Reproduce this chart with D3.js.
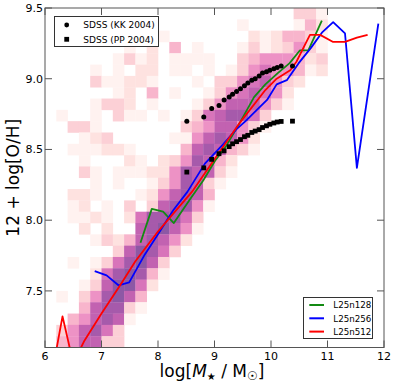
<!DOCTYPE html>
<html>
<head>
<meta charset="utf-8">
<script src="https://cdn.jsdelivr.net/npm/d3@7"></script>
<style>
  body { margin: 0; background: #fff; }
  text { font-family: "DejaVu Sans", sans-serif; }
</style>
</head>
<body>
<div id="root"></div>
<script>
// ---- data ----

// 2D histogram: 30 rows (top = 9.42-9.50) x 30 cols (6.0-6.2 ... 11.8-12.0), shade level 0-9
const heatRows = [
  "000000000000000000000033100000",
  "000000000000000001000014200000",
  "000000000210000000212443100000",
  "000000010204010001312353100000",
  "000000131201111003455542300000",
  "000010102201101013565541200000",
  "000031122100010335675320000000",
  "000000120401001356765200000000",
  "000013320100013577753100000000",
  "010010311010136788630000000000",
  "003310000000345775310000000000",
  "000123000001157875200000000000",
  "001112210000478743100000000000",
  "000100021023587420000000000000",
  "000310111225877310000000000000",
  "000010100135873100000000000000",
  "002210001257874000000000000000",
  "001201030378851000000000000000",
  "001121026888630000000000000000",
  "000202007897510000000000000000",
  "000013247875200000000000000000",
  "000000379863000000000000000000",
  "001013689730000000000000000000",
  "000026898410000000000000000000",
  "000137996200000000000000000000",
  "010358974000000000000000000000",
  "000478831000000000000000000000",
  "004578710000000000000000000000",
  "035786300000000000000000000000",
  "045773300000000000000000000000"
];
const heatColors = ["#ffffff", "#fff2f0", "#fee2e0", "#fcd0d6", "#f8b5cc", "#ed92c5",
                    "#d874ba", "#c262b1", "#a65aab", "#8d58a5"];

// SDSS (KK 2004)
const kkMass = [8.51, 8.81, 8.95, 9.08, 9.17, 9.26, 9.32, 9.39, 9.46, 9.53, 9.59,
                9.66, 9.72, 9.79, 9.85, 9.92, 9.98, 10.05, 10.11, 10.18, 10.38];
const kkOH   = [8.70, 8.73, 8.79, 8.81, 8.85, 8.87, 8.89, 8.91, 8.93, 8.95, 8.97,
                8.99, 9.00, 9.02, 9.04, 9.05, 9.06, 9.07, 9.08, 9.09, 9.09];

// SDSS (PP 2004)
const ppMass = [8.51, 8.81, 8.95, 9.08, 9.17, 9.26, 9.32, 9.39, 9.46, 9.53, 9.59,
                9.66, 9.72, 9.79, 9.85, 9.92, 9.98, 10.05, 10.11, 10.18, 10.38];
const ppOH   = [8.34, 8.37, 8.43, 8.47, 8.49, 8.52, 8.54, 8.555, 8.57, 8.59, 8.60,
                8.62, 8.63, 8.64, 8.655, 8.667, 8.678, 8.687, 8.694, 8.698, 8.70];

// simulations
const n128Mass = [7.69, 7.89, 8.09, 8.28, 8.57, 8.80, 9.01, 9.20, 9.45, 9.70, 9.90,
                  10.12, 10.33, 10.51, 10.66, 10.90];
const n128OH   = [7.84, 8.08, 8.06, 7.98, 8.15, 8.28, 8.42, 8.52, 8.69, 8.87, 8.96,
                  9.04, 9.11, 9.20, 9.20, 9.41];

const n256Mass = [6.88, 7.09, 7.30, 7.49, 7.77, 8.00, 8.27, 8.52, 8.83, 9.16, 9.38,
                  9.55, 9.75, 9.93, 10.10, 10.28, 10.49, 10.71, 10.91, 11.10, 11.31, 11.52, 11.90];
const n256OH   = [7.64, 7.61, 7.54, 7.56, 7.76, 7.90, 8.07, 8.20, 8.40, 8.54, 8.64,
                  8.70, 8.78, 8.85, 8.96, 8.99, 9.11, 9.22, 9.33, 9.40, 9.32, 8.37, 9.39];

const n512Mass = [6.19, 6.31, 6.50, 6.70, 7.00, 7.33, 7.60, 8.00, 8.30, 8.60, 9.00,
                  9.45, 9.90, 10.10, 10.34, 10.45, 10.60, 10.69, 10.87, 11.10, 11.31, 11.52, 11.71];
const n512OH   = [7.06, 7.32, 6.99, 7.15, 7.34, 7.54, 7.71, 7.92, 8.06, 8.20, 8.43,
                  8.69, 8.92, 9.00, 9.06, 9.12, 9.24, 9.31, 9.31, 9.26, 9.26, 9.29, 9.31];

const xTicks = [6, 7, 8, 9, 10, 11, 12];
const yTicks = [7.5, 8.0, 8.5, 9.0, 9.5];

const series = [
  { name: "L25n128", color: "#138a13", mass: n128Mass, oh: n128OH },
  { name: "L25n256", color: "#0000ff", mass: n256Mass, oh: n256OH },
  { name: "L25n512", color: "#ff0000", mass: n512Mass, oh: n512OH }
];

// ---- chart ----
const w = 395, h = 387;
const pLeft = 45, pRight = 384, pTop = 8, pBottom = 347.5;
const massBin = 0.2, ohBin = 0.08;

const svg = d3.select('#root').append('svg')
  .attr('width', w).attr('height', h);

const x = d3.scaleLinear().domain([6, 12]).range([pLeft, pRight]);
const y = d3.scaleLinear().domain([7.1, 9.5]).range([pBottom, pTop]);

svg.append('clipPath').attr('id', 'plot')
  .append('rect').attr('x', pLeft).attr('y', pTop)
  .attr('width', pRight - pLeft).attr('height', pBottom - pTop);

const plot = svg.append('g').attr('clip-path', 'url(#plot)');

// histogram cells
const cells = [];
heatRows.forEach((row, j) => {
  row.split('').forEach((c, i) => {
    if (c !== '0') cells.push({ m: 6 + i * massBin, o: 9.5 - j * ohBin, lev: +c });
  });
});
plot.selectAll('rect.cell')
  .data(cells)
  .enter()
  .append('rect')
  .attr('class', 'cell')
  .attr('x', d => x(d.m))
  .attr('y', d => y(d.o))
  .attr('width', d => x(d.m + massBin) - x(d.m) + 0.3)
  .attr('height', d => y(d.o - ohBin) - y(d.o) + 0.3)
  .attr('fill', d => heatColors[d.lev]);

// simulation lines
const line = d3.line().x(d => x(d[0])).y(d => y(d[1]));
series.forEach(s => {
  plot.append('path')
    .datum(s.mass.map((m, i) => [m, s.oh[i]]))
    .attr('d', line)
    .attr('fill', 'none')
    .attr('stroke', s.color)
    .attr('stroke-width', 1.8)
    .attr('stroke-linejoin', 'round');
});

// observations
plot.selectAll('circle.kk')
  .data(kkMass.map((m, i) => [m, kkOH[i]]))
  .enter()
  .append('circle')
  .attr('cx', d => x(d[0]))
  .attr('cy', d => y(d[1]))
  .attr('r', 2.5)
  .attr('fill', '#000');

const sq = 4.8;
plot.selectAll('rect.pp')
  .data(ppMass.map((m, i) => [m, ppOH[i]]))
  .enter()
  .append('rect')
  .attr('x', d => x(d[0]) - sq / 2)
  .attr('y', d => y(d[1]) - sq / 2)
  .attr('width', sq).attr('height', sq)
  .attr('fill', '#000');

// axes, ticks inward on all four sides
const axisColor = '#555';
const tickLen = 7;
const axes = svg.append('g');
axes.selectAll('line.xb').data(xTicks).enter().append('line')
  .attr('x1', d => x(d)).attr('x2', d => x(d))
  .attr('y1', pBottom).attr('y2', pBottom - tickLen);
axes.selectAll('line.xt').data(xTicks).enter().append('line')
  .attr('x1', d => x(d)).attr('x2', d => x(d))
  .attr('y1', pTop).attr('y2', pTop + tickLen);
axes.selectAll('line.yl').data(yTicks).enter().append('line')
  .attr('x1', pLeft).attr('x2', pLeft + tickLen)
  .attr('y1', d => y(d)).attr('y2', d => y(d));
axes.selectAll('line.yr').data(yTicks).enter().append('line')
  .attr('x1', pRight).attr('x2', pRight - tickLen)
  .attr('y1', d => y(d)).attr('y2', d => y(d));
axes.selectAll('line').attr('stroke', axisColor).attr('stroke-width', 1);

svg.append('rect')
  .attr('x', pLeft).attr('y', pTop)
  .attr('width', pRight - pLeft).attr('height', pBottom - pTop)
  .attr('fill', 'none').attr('stroke', axisColor).attr('stroke-width', 1);

svg.selectAll('text.xl').data(xTicks).enter().append('text')
  .attr('x', d => x(d)).attr('y', 360)
  .attr('text-anchor', 'middle').attr('font-size', 11)
  .text(d => d);
svg.selectAll('text.yl').data(yTicks).enter().append('text')
  .attr('x', 43).attr('y', d => y(d) + 4)
  .attr('text-anchor', 'end').attr('font-size', 11)
  .text(d => d.toFixed(1));

// axis titles
const xt = svg.append('text')
  .attr('x', 212).attr('y', 377)
  .attr('text-anchor', 'middle').attr('font-size', 17);
xt.append('tspan').text('log[');
xt.append('tspan').attr('font-style', 'italic').text('M');
xt.append('tspan').attr('font-size', 10).attr('dy', 3).text('★');
xt.append('tspan').attr('dy', -3).text(' / M');
xt.append('tspan').attr('font-size', 12).attr('dy', 3).text('☉');
xt.append('tspan').attr('dy', -3).text(']');

svg.append('text')
  .attr('transform', `translate(18.5,${(pTop + pBottom) / 2})rotate(-90)`)
  .attr('text-anchor', 'middle').attr('font-size', 17)
  .text('12 + log[O/H]');

// legend: observations (upper left)
const lg1 = svg.append('g');
lg1.append('rect').attr('x', 54.5).attr('y', 16.5).attr('width', 104).attr('height', 30)
  .attr('fill', '#fff').attr('stroke', '#333').attr('stroke-width', 1);
lg1.append('circle').attr('cx', 66.7).attr('cy', 25).attr('r', 2.4).attr('fill', '#000');
lg1.append('rect').attr('x', 66.7 - 2.4).attr('y', 39.3 - 2.4).attr('width', 4.8).attr('height', 4.8).attr('fill', '#000');
lg1.append('text').attr('x', 83.3).attr('y', 28.3).attr('font-size', 9).text('SDSS (KK 2004)');
lg1.append('text').attr('x', 83.3).attr('y', 42.6).attr('font-size', 9).text('SDSS (PP 2004)');

// legend: simulations (lower right)
const lg2 = svg.append('g');
lg2.append('rect').attr('x', 303.5).attr('y', 297.5).attr('width', 69).attr('height', 41)
  .attr('fill', '#fff').attr('stroke', '#333').attr('stroke-width', 1);
series.forEach((s, i) => {
  const yy = 305 + i * 13.3;
  lg2.append('line').attr('x1', 309.3).attr('x2', 324).attr('y1', yy).attr('y2', yy)
    .attr('stroke', s.color).attr('stroke-width', 2);
  lg2.append('text').attr('x', 333.3).attr('y', yy + 3.2).attr('font-size', 8.7).text(s.name);
});
</script>
</body>
</html>
